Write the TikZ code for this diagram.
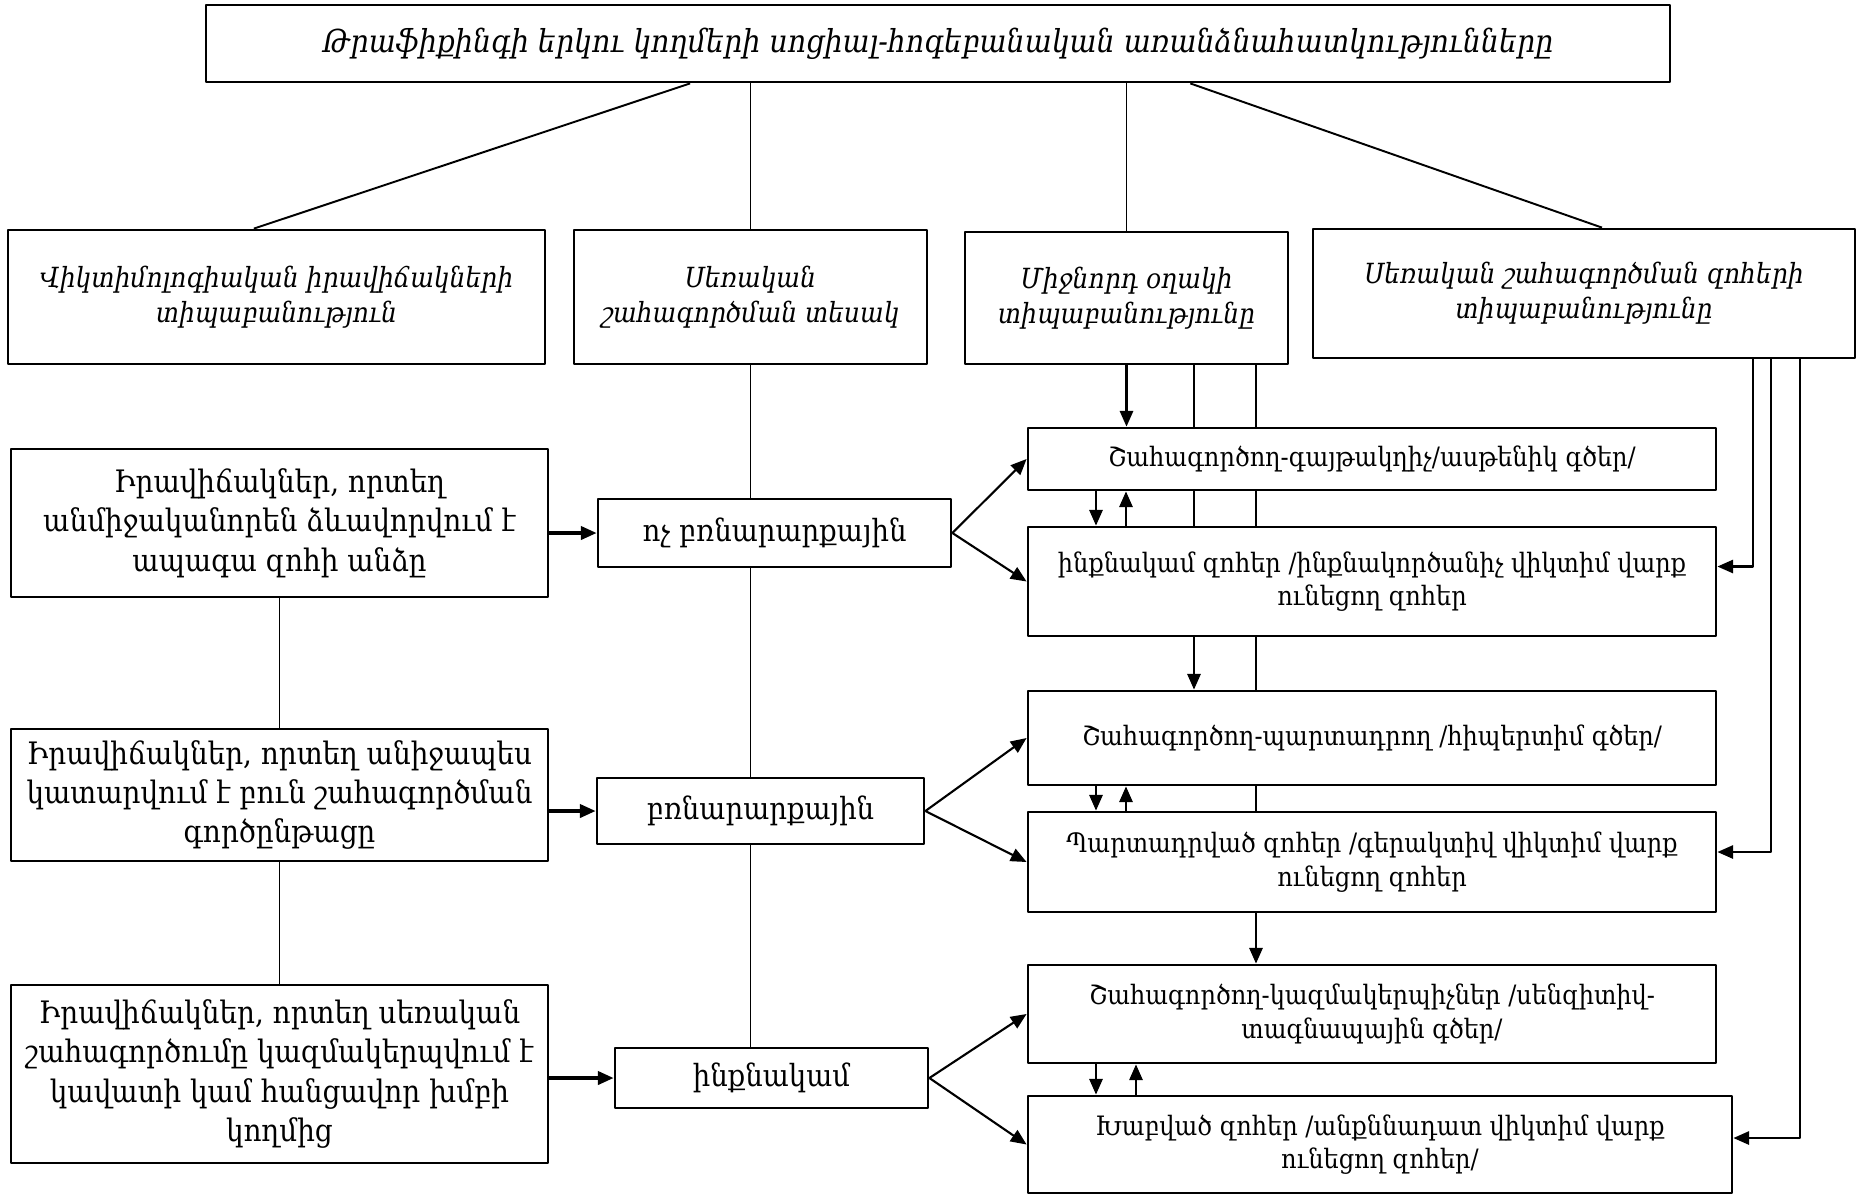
\documentclass[tikz,border=0pt]{standalone}
\usepackage{fontspec}
\setmainfont{DejaVu Serif Condensed}
\usetikzlibrary{arrows.meta,backgrounds,calc}

\begin{document}
\begin{tikzpicture}[>={Triangle[length=4.5pt,width=3.8pt]}, line join=bevel]
	\pgfsetlinewidth{0.55pt}
	\pgfsetcolor{black}

	\tikzstyle{box} = [draw, line width=0.8pt, fill=white, align=center, inner sep=1pt];
	\tikzstyle{head} = [box, font=\itshape\fontsize{7.9}{10}\selectfont];
	\tikzstyle{situation} = [box, font=\fontsize{8.8}{11.2}\selectfont, minimum width=5.37cm];
	\tikzstyle{kind} = [box, font=\fontsize{8.7}{11}\selectfont];
	\tikzstyle{actor} = [box, font=\fontsize{7.6}{9.6}\selectfont, minimum width=6.88cm];
	\tikzstyle{arr} = [->, line width=0.6pt];
	\tikzstyle{bigarr} = [->, line width=0.9pt];

	\useasboundingbox (0,0) rectangle (18.58,-11.94);

	\node[box, font=\itshape\fontsize{9}{12}\selectfont, minimum width=14.64cm, minimum height=0.77cm] at (9.38,-0.435) (title) {Թրաֆիքինգի երկու կողմերի սոցիալ-հոգեբանական առանձնահատկությունները};

	\node[head, minimum width=5.37cm, minimum height=1.34cm] at (2.765,-2.97) (typo) {Վիկտիմոլոգիական իրավիճակների\\տիպաբանություն};
	\node[head, minimum width=3.53cm, minimum height=1.34cm] at (7.505,-2.97) (kind) {Սեռական\\շահագործման տեսակ};
	\node[head, minimum width=3.23cm, minimum height=1.32cm] at (11.265,-2.98) (middle) {Միջնորդ օղակի\\տիպաբանությունը};
	\node[head, minimum width=5.42cm, minimum height=1.29cm] at (15.84,-2.935) (victims) {Սեռական շահագործման զոհերի\\տիպաբանությունը};

	\node[situation, minimum height=1.48cm] at (2.795,-5.23) (s1) {Իրավիճակներ, որտեղ\\անմիջականորեն ձևավորվում է\\ապագա զոհի անձը};
	\node[situation, minimum height=1.32cm] at (2.795,-7.95) (s2) {Իրավիճակներ, որտեղ անիջապես\\կատարվում է բուն շահագործման\\գործընթացը};
	\node[situation, minimum height=1.78cm] at (2.795,-10.74) (s3) {Իրավիճակներ, որտեղ սեռական\\շահագործումը կազմակերպվում է\\կավատի կամ հանցավոր խմբի\\կողմից};

	\node[kind, minimum width=3.53cm, minimum height=0.68cm] at (7.745,-5.33) (k1) {ոչ բռնարարքային};
	\node[kind, minimum width=3.27cm, minimum height=0.66cm] at (7.605,-8.11) (k2) {բռնարարքային};
	\node[kind, minimum width=3.13cm, minimum height=0.60cm] at (7.715,-10.78) (k3) {ինքնակամ};

	\node[actor, minimum height=0.62cm] at (13.72,-4.59) (a1) {Շահագործող-գայթակղիչ/ասթենիկ գծեր/};
	\node[actor, minimum height=1.09cm] at (13.72,-5.815) (v1) {ինքնակամ զոհեր /ինքնակործանիչ վիկտիմ վարք\\ունեցող զոհեր};
	\node[actor, minimum height=0.94cm] at (13.72,-7.38) (a2) {Շահագործող-պարտադրող /հիպերտիմ գծեր/};
	\node[actor, minimum height=1.00cm] at (13.72,-8.62) (v2) {Պարտադրված զոհեր /գերակտիվ վիկտիմ վարք\\ունեցող զոհեր};
	\node[actor, minimum height=0.98cm] at (13.72,-10.14) (a3) {Շահագործող-կազմակերպիչներ /սենզիտիվ-\\տագնապային գծեր/};
	\node[actor, minimum width=7.04cm, minimum height=0.97cm] at (13.80,-11.445) (v3) {Խաբված զոհեր /անքննադատ վիկտիմ վարք\\ունեցող զոհեր/};

	\coordinate (dn) at (10.96,0);
	\coordinate (up) at (11.26,0);
	\coordinate (up2) at (11.36,0);
	\coordinate (m3) at (11.94,0);
	\coordinate (m5) at (12.56,0);
	\coordinate (d1) at (17.53,0);
	\coordinate (d2) at (17.71,0);
	\coordinate (d3) at (18.00,0);

	\draw ($(title.south west)!0.331!(title.south east)$) -- ($(typo.north west)!0.458!(typo.north east)$);
	\draw (title.south -| kind.north) -- (kind.north);
	\draw (title.south -| middle.north) -- (middle.north);
	\draw ($(title.south west)!0.672!(title.south east)$) -- ($(victims.north west)!0.533!(victims.north east)$);

	\begin{pgfonlayer}{background}
		\draw (s1.south) -- (s3.north);
		\draw (kind.south) -- (kind.south |- k3.north);
		\draw[arr] (middle.south -| m3) -- (a2.north -| m3);
		\draw[arr] (middle.south -| m5) -- (a3.north -| m5);
	\end{pgfonlayer}

	\draw[bigarr] (k1.west -| s1.east) -- (k1.west);
	\draw[bigarr] (k2.west -| s2.east) -- (k2.west);
	\draw[bigarr] (k3.west -| s3.east) -- (k3.west);

	\draw[arr] (k1.east) -- (a1.west);
	\draw[arr] (k1.east) -- (v1.west);
	\draw[arr] (k2.east) -- (a2.west);
	\draw[arr] (k2.east) -- (v2.west);
	\draw[arr] (k3.east) -- (a3.west);
	\draw[arr] (k3.east) -- (v3.west);

	\draw[arr] (middle.south) -- (a1.north -| middle.south);
	\draw[arr] (a1.south -| dn) -- (v1.north -| dn);
	\draw[arr] (v1.north -| up) -- (a1.south -| up);
	\draw[arr] (a2.south -| dn) -- (v2.north -| dn);
	\draw[arr] (v2.north -| up) -- (a2.south -| up);
	\draw[arr] (a3.south -| dn) -- (v3.north -| dn);
	\draw[arr] (v3.north -| up2) -- (a3.south -| up2);

	\draw[arr] (victims.south -| d1) |- ([yshift=0.15cm]v1.east);
	\draw[arr] (victims.south -| d2) |- ([yshift=0.1cm]v2.east);
	\draw[arr] (victims.south -| d3) |- ([yshift=0.065cm]v3.east);
\end{tikzpicture}
\end{document}
